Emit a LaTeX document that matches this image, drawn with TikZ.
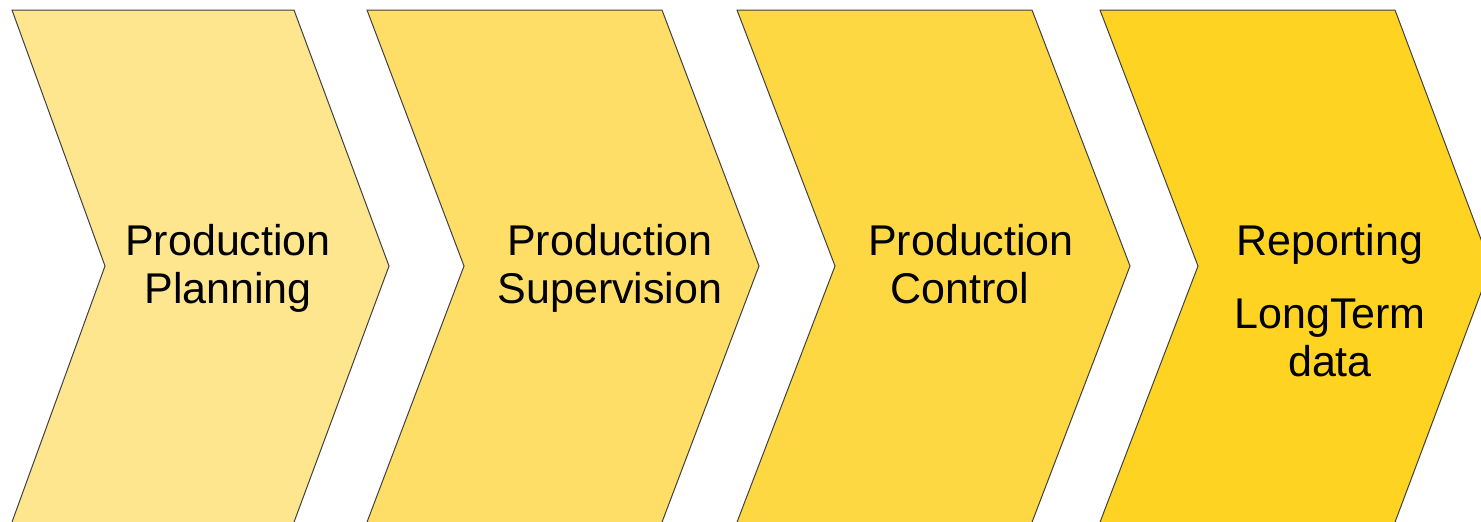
\documentclass[tikz,border=0pt]{standalone}
\usepackage{fontspec}
\setmainfont{Liberation Sans}
\definecolor{cA}{HTML}{FDE68E}
\definecolor{cB}{HTML}{FEDE66}
\definecolor{cC}{HTML}{FED843}
\definecolor{cD}{HTML}{FED322}
\tikzset{
  chevron/.style={draw=black!75, line width=0.5pt, line join=miter},
  lbl/.style={font=\fontsize{21.5}{24}\selectfont, align=center, inner sep=0pt, anchor=base},
}
\begin{document}
\begin{tikzpicture}[x=0.5pt,y=-0.5pt]
\useasboundingbox (0,0) rectangle (1481,521);
\clip (0,0) rectangle (1481,521);
\path[chevron, fill=cA] (12,10) -- (294,10) -- (389,266) -- (293.3,524) -- (11.3,524) -- (105,266) -- cycle;
\path[chevron, fill=cB] (367,10) -- (662,10) -- (759,266) -- (661.3,524) -- (366.3,524) -- (464,266) -- cycle;
\path[chevron, fill=cC] (737,10) -- (1032,10) -- (1130,266) -- (1031.3,524) -- (736.3,524) -- (835,266) -- cycle;
\path[chevron, fill=cD] (1100,10) -- (1395,10) -- (1491,266) -- (1394.3,524) -- (1099.3,524) -- (1198,266) -- cycle;
\node[lbl] (t1) at (228,303) {Production\\Planning};
\node[lbl] (t2) at (610,303) {Production\\Supervision};
\node[lbl] (t3) at (971,303) {Production\\Control\hspace*{11pt}};
\node[lbl] (t4) at (1330,376) {Reporting\\[12.5pt]LongTerm\\data};
\end{tikzpicture}
\end{document}
